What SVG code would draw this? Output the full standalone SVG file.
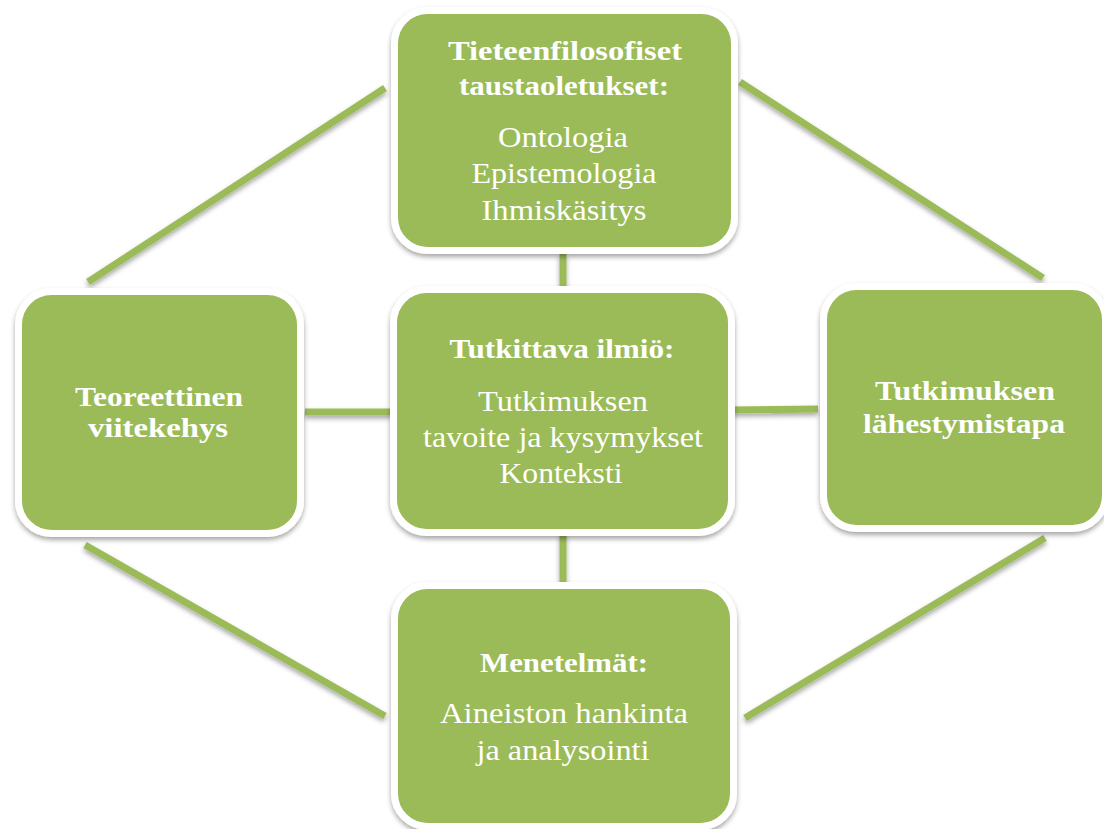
<svg xmlns="http://www.w3.org/2000/svg" width="1104" height="829" viewBox="0 0 1104 829">
  <defs>
    <filter id="sh" filterUnits="userSpaceOnUse" x="0" y="0" width="1104" height="829">
      <feDropShadow dx="0" dy="3" stdDeviation="2.5" flood-color="#000" flood-opacity="0.35"/>
    </filter>
    <style>
      .box { fill: #9BBB59; stroke: #FFFFFF; stroke-width: 7; filter: url(#sh); }
      .con { stroke: #9BBB59; stroke-width: 7; fill: none; filter: url(#sh); }
      .b { font-family: "Liberation Serif", "DejaVu Serif", serif; font-weight: bold; font-size: 28px; fill: #FFFFFF; text-anchor: middle; }
      .r { font-family: "Liberation Serif", "DejaVu Serif", serif; font-size: 29px; fill: #FFFFFF; text-anchor: middle; }
    </style>
  </defs>
  <rect width="1104" height="829" fill="#FFFFFF"/>
  <g id="connectors">
    <line class="con" x1="385" y1="88" x2="88" y2="282"/>
    <line class="con" x1="740" y1="82" x2="1043" y2="278"/>
    <line class="con" x1="85" y1="545" x2="385" y2="716"/>
    <line class="con" x1="1045" y1="538" x2="745" y2="718"/>
    <line class="con" x1="563" y1="254" x2="563" y2="290"/>
    <line class="con" x1="563" y1="533" x2="563" y2="582"/>
    <line class="con" x1="305" y1="412" x2="392" y2="412"/>
    <line class="con" x1="733" y1="410" x2="818" y2="409"/>
  </g>
  <g id="node-top">
    <rect class="box" x="394.5" y="10.5" width="340" height="240" rx="33"/>
    <text class="b" x="565" y="60" textLength="234" lengthAdjust="spacingAndGlyphs">Tieteenfilosofiset</text>
    <text class="b" x="564" y="95" textLength="210" lengthAdjust="spacingAndGlyphs">taustaoletukset:</text>
    <text class="r" x="563" y="147" textLength="130" lengthAdjust="spacingAndGlyphs">Ontologia</text>
    <text class="r" x="564" y="183" textLength="185" lengthAdjust="spacingAndGlyphs">Epistemologia</text>
    <text class="r" x="564" y="220" textLength="165" lengthAdjust="spacingAndGlyphs">Ihmiskäsitys</text>
  </g>
  <g id="node-left">
    <rect class="box" x="18.5" y="291.5" width="282" height="242" rx="33"/>
    <text class="b" x="159" y="406" textLength="168" lengthAdjust="spacingAndGlyphs">Teoreettinen</text>
    <text class="b" x="158" y="437" textLength="140" lengthAdjust="spacingAndGlyphs">viitekehys</text>
  </g>
  <g id="node-center">
    <rect class="box" x="393.5" y="289.5" width="338" height="243" rx="33"/>
    <text class="b" x="562" y="358" textLength="225" lengthAdjust="spacingAndGlyphs">Tutkittava ilmiö:</text>
    <text class="r" x="563" y="411" textLength="170" lengthAdjust="spacingAndGlyphs">Tutkimuksen</text>
    <text class="r" x="563" y="447" textLength="280" lengthAdjust="spacingAndGlyphs">tavoite ja kysymykset</text>
    <text class="r" x="561" y="483" textLength="123" lengthAdjust="spacingAndGlyphs">Konteksti</text>
  </g>
  <g id="node-right">
    <rect class="box" x="823.5" y="286.5" width="282" height="242" rx="33"/>
    <text class="b" x="965" y="400" textLength="180" lengthAdjust="spacingAndGlyphs">Tutkimuksen</text>
    <text class="b" x="964" y="433" textLength="202" lengthAdjust="spacingAndGlyphs">lähestymistapa</text>
  </g>
  <g id="node-bottom">
    <rect class="box" x="394.5" y="585.5" width="339" height="241" rx="33"/>
    <text class="b" x="564" y="672" textLength="168" lengthAdjust="spacingAndGlyphs">Menetelmät:</text>
    <text class="r" x="564" y="723" textLength="248" lengthAdjust="spacingAndGlyphs">Aineiston hankinta</text>
    <text class="r" x="563" y="760" textLength="173" lengthAdjust="spacingAndGlyphs">ja analysointi</text>
  </g>
</svg>
